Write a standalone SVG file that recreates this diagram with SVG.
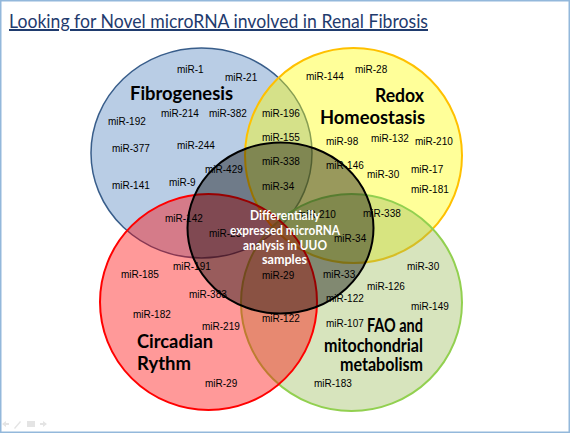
<svg xmlns="http://www.w3.org/2000/svg" width="570" height="433" viewBox="0 0 570 433">
<style>
.mir{font-family:"Liberation Sans",Arial,sans-serif;font-size:10px;fill:#000}
.set{font-family:Lato,"Liberation Sans",sans-serif;font-weight:700;font-size:19px;fill:#000}
.ctr{font-family:Lato,"Liberation Sans",sans-serif;font-weight:700;font-size:13px;fill:#fff;text-anchor:middle}
.end{text-anchor:end}
.ic{fill:#e4e4e4}
</style>
<rect x="0.75" y="0.75" width="568.5" height="431.5" fill="#fff" stroke="#93b8db" stroke-width="1.5"/>
<text x="9" y="28" font-family="Lato,'Liberation Sans',sans-serif" font-size="20" fill="#1f3b6e" text-decoration="underline" textLength="419" lengthAdjust="spacingAndGlyphs">Looking for Novel microRNA involved in Renal Fibrosis</text>

<g id="fibrogenesis">
<ellipse cx="201.5" cy="153" rx="110.5" ry="105" fill="#4F81BD" fill-opacity="0.4" stroke="#385D8A" stroke-width="1.5"/>
<text class="set" x="130" y="100" textLength="103" lengthAdjust="spacingAndGlyphs">Fibrogenesis</text>
</g>
<g id="redox-homeostasis">
<ellipse cx="353.5" cy="155.5" rx="108.5" ry="107.5" fill="#FFFF00" fill-opacity="0.4" stroke="#FFC000" stroke-width="2"/>
<text class="set end" x="424" y="102" textLength="49" lengthAdjust="spacingAndGlyphs">Redox</text>
<text class="set end" x="425" y="124" textLength="105" lengthAdjust="spacingAndGlyphs">Homeostasis</text>
</g>
<g id="fao-mitochondrial">
<ellipse cx="351.5" cy="302.5" rx="110.5" ry="108.5" fill="#9BBB59" fill-opacity="0.4" stroke="#92D050" stroke-width="2"/>
<text class="set end" x="423" y="332" textLength="56" lengthAdjust="spacingAndGlyphs">FAO and</text>
<text class="set end" x="423" y="352" textLength="99" lengthAdjust="spacingAndGlyphs">mitochondrial</text>
<text class="set end" x="423" y="371" textLength="83" lengthAdjust="spacingAndGlyphs">metabolism</text>
</g>
<g id="circadian-rythm">
<ellipse cx="208.5" cy="302" rx="108.5" ry="108" fill="#FF0000" fill-opacity="0.4" stroke="#FF0000" stroke-width="2"/>
<text class="set" x="137" y="348" textLength="76" lengthAdjust="spacingAndGlyphs">Circadian</text>
<text class="set" x="137" y="370" textLength="54" lengthAdjust="spacingAndGlyphs">Rythm</text>
</g>

<g id="mirna-labels">
<text class="mir" x="177" y="73">miR-1</text>
<text class="mir" x="225" y="81">miR-21</text>
<text class="mir" x="161" y="117">miR-214</text>
<text class="mir" x="209" y="117">miR-382</text>
<text class="mir" x="108" y="125">miR-192</text>
<text class="mir" x="112" y="152">miR-377</text>
<text class="mir" x="177" y="149">miR-244</text>
<text class="mir" x="205" y="173">miR-429</text>
<text class="mir" x="112" y="189">miR-141</text>
<text class="mir" x="169" y="186">miR-9</text>
<text class="mir" x="306" y="80">miR-144</text>
<text class="mir" x="355" y="73">miR-28</text>
<text class="mir" x="262" y="117">miR-196</text>
<text class="mir" x="262" y="141">miR-155</text>
<text class="mir" x="326" y="145">miR-98</text>
<text class="mir" x="371" y="142">miR-132</text>
<text class="mir" x="415" y="145">miR-210</text>
<text class="mir" x="262" y="165">miR-338</text>
<text class="mir" x="326" y="169">miR-146</text>
<text class="mir" x="367" y="178">miR-30</text>
<text class="mir" x="411" y="173">miR-17</text>
<text class="mir" x="411" y="193">miR-181</text>
<text class="mir" x="262" y="190">miR-34</text>
<text class="mir" x="298" y="218">miR-210</text>
<text class="mir" x="363" y="217">miR-338</text>
<text class="mir" x="334" y="242">miR-34</text>
<text class="mir" x="165" y="222">miR-142</text>
<text class="mir" x="209" y="237">miR-23</text>
<text class="mir" x="173" y="270">miR-191</text>
<text class="mir" x="121" y="278">miR-185</text>
<text class="mir" x="189" y="298">miR-383</text>
<text class="mir" x="133" y="318">miR-182</text>
<text class="mir" x="202" y="330">miR-219</text>
<text class="mir" x="205" y="387">miR-29</text>
<text class="mir" x="262" y="279">miR-29</text>
<text class="mir" x="323" y="278">miR-33</text>
<text class="mir" x="326" y="302">miR-122</text>
<text class="mir" x="262" y="322">miR-122</text>
<text class="mir" x="407" y="270">miR-30</text>
<text class="mir" x="367" y="290">miR-126</text>
<text class="mir" x="411" y="310">miR-149</text>
<text class="mir" x="326" y="327">miR-107</text>
<text class="mir" x="314" y="387">miR-183</text>
</g>

<g id="uuo-analysis">
<ellipse cx="280.5" cy="228" rx="93" ry="85.5" fill="#000" fill-opacity="0.4" stroke="#000" stroke-width="2"/>
<text class="ctr" x="285" y="220" textLength="70" lengthAdjust="spacingAndGlyphs">Differentially</text>
<text class="ctr" x="285" y="235" textLength="110" lengthAdjust="spacingAndGlyphs">expressed microRNA</text>
<text class="ctr" x="285" y="250" textLength="84" lengthAdjust="spacingAndGlyphs">analysis in UUO</text>
<text class="ctr" x="284.5" y="264" textLength="45" lengthAdjust="spacingAndGlyphs">samples</text>
</g>

<g id="toolbar">
<path class="ic" d="M2 424 l4 -3 v2 h3 v2 h-3 v2 z"/>
<path class="ic" d="M14 428 l6 -7 l1 1 l-6 7 z"/>
<rect class="ic" x="27" y="421" width="8" height="6"/>
<path class="ic" d="M47 424 l-4 -3 v2 h-3 v2 h3 v2 z"/>
</g>
</svg>
